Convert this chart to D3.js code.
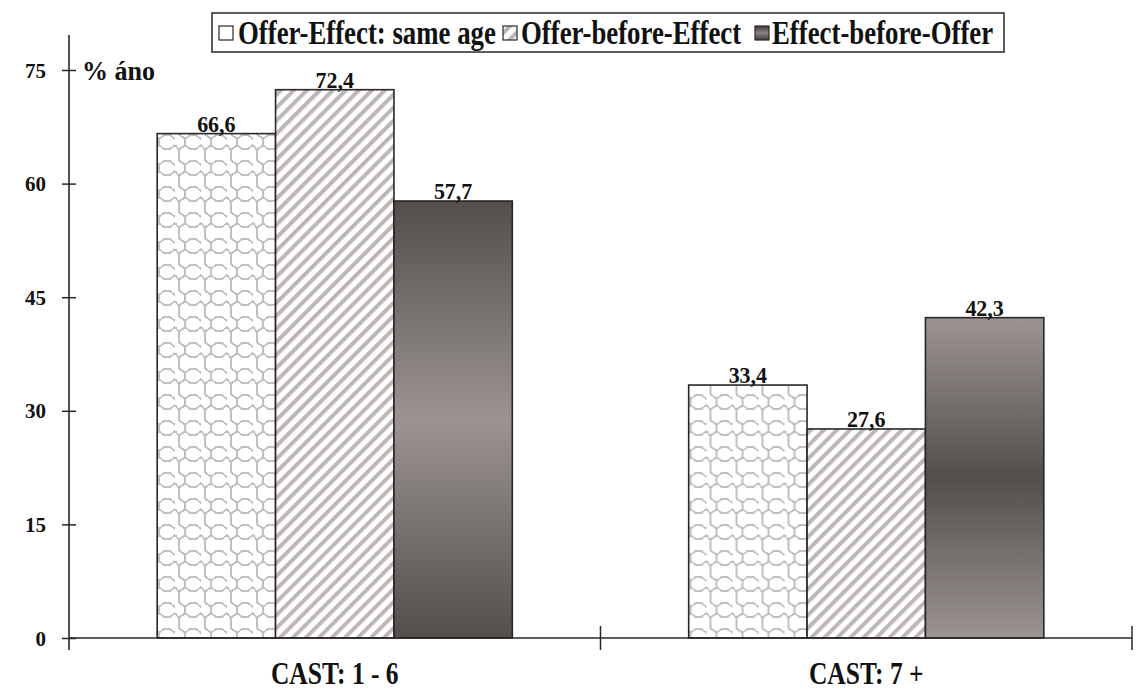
<!DOCTYPE html>
<html>
<head>
<meta charset="utf-8">
<script src="https://cdn.jsdelivr.net/npm/d3@7/dist/d3.min.js"></script>
<style>
  html, body { margin: 0; padding: 0; background: #fff; }
  svg { display: block; }
  svg text { font-family: "Liberation Serif", "Times New Roman", Times, serif; font-weight: 700; fill: #111; }
</style>
</head>
<body>
<div id="chart"></div>
<script>
// Share of ano answers by cast group and timing of offer vs. effect
const categories = ["CAST: 1 - 6", "CAST: 7 +"];
const seriesNames = ["Offer-Effect: same age", "Offer-before-Effect", "Effect-before-Offer"];
const sameAge = [66.6, 33.4];
const offerBeforeEffect = [72.4, 27.6];
const effectBeforeOffer = [57.7, 42.3];
const yTicks = [0, 15, 30, 45, 60, 75];
const yUnit = "% áno";

const width = 1145, height = 692;
const plot = { left: 69, right: 1132, top: 70, bottom: 638 };
const serif = "'Liberation Serif', 'Times New Roman', Times, serif";

const svg = d3.select("#chart").append("svg")
  .attr("width", width).attr("height", height);

const defs = svg.append("defs");

// tall, narrow lettering: text drawn at its own width, stretched vertically
function tallText(parent, x, yBase, str, size, stretch, anchor) {
  return parent.append("text")
    .attr("transform", `translate(${x},${yBase}) scale(1,${stretch})`)
    .attr("text-anchor", anchor || "start")
    .attr("font-size", size)
    .text(str);
}

// wavy lattice pattern for the first series
const lattice = defs.append("pattern")
  .attr("id", "lattice").attr("patternUnits", "userSpaceOnUse")
  .attr("x", 2).attr("y", 0)
  .attr("width", 26).attr("height", 26);
lattice.append("rect").attr("width", 26).attr("height", 26).attr("fill", "#fff");
lattice.append("path")
  .attr("d", "M4,0 V4 L10,9 V15 L4,20 V26" +
             "M10,15 L15,19 H21 L26,15" +
             "M0,15 L4,20" +
             "M10,9 L15,5 H21 L26,9 M0,9 L-4,5")
  .attr("fill", "none").attr("stroke", "#c4bfbd").attr("stroke-width", 2)
  .attr("shape-rendering", "crispEdges");

// diagonal stripes for the second series
const stripes = defs.append("pattern")
  .attr("id", "stripes").attr("patternUnits", "userSpaceOnUse")
  .attr("width", 9.2).attr("height", 9.2)
  .attr("patternTransform", "rotate(45)");
stripes.append("rect").attr("width", 9.2).attr("height", 9.2).attr("fill", "#fff");
stripes.append("rect").attr("width", 4).attr("height", 9.2).attr("fill", "#bdb7b5");

// vertical shading for the third series
const dark = "#534d4c", light = "#9b9492";
const gradA = defs.append("linearGradient").attr("id", "shadeA")
  .attr("x1", 0).attr("y1", 0).attr("x2", 0).attr("y2", 1);
[[0, dark], [0.5, light], [1, dark]].forEach(([o, c]) =>
  gradA.append("stop").attr("offset", o).attr("stop-color", c));
const gradB = defs.append("linearGradient").attr("id", "shadeB")
  .attr("x1", 0).attr("y1", 0).attr("x2", 0).attr("y2", 1);
[[0, light], [0.5, dark], [1, light]].forEach(([o, c]) =>
  gradB.append("stop").attr("offset", o).attr("stop-color", c));
const gradLegend = defs.append("linearGradient").attr("id", "shadeL")
  .attr("x1", 0).attr("y1", 0).attr("x2", 0).attr("y2", 1);
[[0, "#3f3a3a"], [0.5, "#8a8482"], [1, "#3f3a3a"]].forEach(([o, c]) =>
  gradLegend.append("stop").attr("offset", o).attr("stop-color", c));

const series = [
  { name: seriesNames[0], values: sameAge, fill: () => "url(#lattice)" },
  { name: seriesNames[1], values: offerBeforeEffect, fill: () => "url(#stripes)" },
  { name: seriesNames[2], values: effectBeforeOffer, fill: (i) => i === 0 ? "url(#shadeA)" : "url(#shadeB)" }
];

const x0 = d3.scaleBand().domain(categories).range([plot.left, plot.right]).padding(0);
const x1 = d3.scaleBand().domain(seriesNames).range([0, x0.bandwidth()])
  .paddingInner(0).paddingOuter(0.745);
const y = d3.scaleLinear().domain([0, 75]).range([plot.bottom, plot.top]);

// bars with value labels
const groups = svg.append("g").selectAll("g").data(categories).join("g")
  .attr("transform", d => `translate(${x0(d)},0)`);

groups.each(function (cat, i) {
  const g = d3.select(this);
  series.forEach(s => {
    const v = s.values[i];
    g.append("rect")
      .attr("x", x1(s.name)).attr("y", y(v))
      .attr("width", x1.bandwidth()).attr("height", y(0) - y(v))
      .attr("fill", s.fill(i))
      .attr("stroke", "#2a2626").attr("stroke-width", 1.6);
    tallText(g, x1(s.name) + x1.bandwidth() / 2, y(v) - 2,
      d3.format(".1f")(v).replace(".", ","), 22, 1.05, "middle");
  });
});

// y axis
const yAxis = svg.append("g").attr("transform", `translate(${plot.left},0)`)
  .call(d3.axisLeft(y).tickValues(yTicks).tickSizeOuter(0).tickPadding(17));
yAxis.attr("font-family", serif);
yAxis.select(".domain").remove();
yAxis.selectAll(".tick line").attr("x1", 7).attr("x2", -7)
  .attr("stroke", "#2a2626").attr("stroke-width", 1.5);
yAxis.selectAll(".tick text")
  .attr("font-size", 21).attr("fill", "#111").attr("dy", "0.34em");
yAxis.append("line")
  .attr("x1", 0).attr("x2", 0)
  .attr("y1", y(75) - 35).attr("y2", y(0) + 12)
  .attr("stroke", "#2a2626").attr("stroke-width", 1.6);

// unit label
tallText(svg, plot.left + 13, y(75) + 10, yUnit, 26, 1.05);

// x axis
const xAxisG = svg.append("g");
xAxisG.append("line")
  .attr("x1", plot.left).attr("x2", plot.right)
  .attr("y1", y(0)).attr("y2", y(0))
  .attr("stroke", "#2a2626").attr("stroke-width", 1.6);
const boundaries = categories.map(c => x0(c)).concat([x0(categories[categories.length - 1]) + x0.bandwidth()]);
xAxisG.selectAll("line.tick").data(boundaries.slice(1)).join("line")
  .attr("class", "tick")
  .attr("x1", d => d).attr("x2", d => d)
  .attr("y1", y(0) - 12).attr("y2", y(0) + 12)
  .attr("stroke", "#2a2626").attr("stroke-width", 1.5);
categories.forEach(c => {
  tallText(xAxisG, x0(c) + x0.bandwidth() / 2, y(0) + 46, c, 25.5, 1.2, "middle");
});

// legend
const legend = svg.append("g");
legend.append("rect")
  .attr("x", 212).attr("y", 13).attr("width", 792).attr("height", 39)
  .attr("fill", "#fff").attr("stroke", "#2a2626").attr("stroke-width", 1.5);
const legendItems = [
  { s: series[0], sx: 219, tx: 238, fill: "#fff" },
  { s: series[1], sx: 503, tx: 521, fill: "url(#stripes)" },
  { s: series[2], sx: 755, tx: 772, fill: "url(#shadeL)" }
];
legendItems.forEach(it => {
  legend.append("rect")
    .attr("x", it.sx).attr("y", 26).attr("width", 14).attr("height", 14)
    .attr("fill", it.fill).attr("stroke", "#2a2626").attr("stroke-width", 1.2);
  tallText(legend, it.tx, 44, it.s.name, 26.8, 1.23);
});
</script>
</body>
</html>
